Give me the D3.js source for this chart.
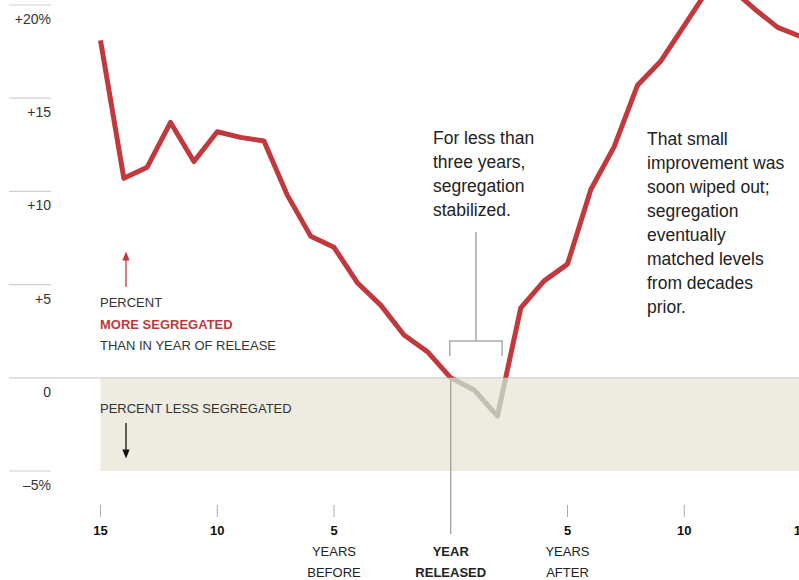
<!DOCTYPE html>
<html>
<head>
<meta charset="utf-8">
<script src="https://cdn.jsdelivr.net/npm/d3@7"></script>
<style>
html,body{margin:0;padding:0;background:#fff;}
svg{display:block;font-family:"Liberation Sans",Arial,sans-serif;}
</style>
</head>
<body>
<svg id="chart" width="799" height="580"></svg>
<script>
// ---- data ----
const years = d3.range(-15, 16);
const values = [18.1, 10.7, 11.3, 13.7, 11.6, 13.2, 12.9, 12.7, 9.8, 7.6, 7.0, 5.1, 3.9, 2.3, 1.4, 0,
                -0.65, -2.05, 3.75, 5.2, 6.1, 10.1, 12.4, 15.7, 17.0, 18.9, 20.8, 20.9, 19.8, 18.8, 18.3];
const yTicks = [20, 15, 10, 5, 0, -5];
const yTickLabels = ["+20%", "+15", "+10", "+5", "0", "\u20135%"];
const xTicks = [-15, -10, -5, 0, 5, 10, 15];
const xTickLabels = ["15", "10", "5", "", "5", "10", "15"];
const noteStable = ["For less than", "three years,", "segregation", "stabilized."];
const noteLater = ["That small", "improvement was", "soon wiped out;", "segregation", "eventually", "matched levels", "from decades", "prior."];

const svg = d3.select("#chart");
const x = d3.scaleLinear().domain([-15, 15]).range([100.5, 801]);
const y = d3.scaleLinear().domain([-5, 20]).range([471, 5]);
const data = years.map((yr, i) => ({yr, v: values[i]}));

// shaded "less segregated" band
svg.append("rect")
  .attr("x", x(-15)).attr("y", y(0))
  .attr("width", 799 - x(-15)).attr("height", y(-5) - y(0))
  .attr("fill", "#eeebe0");

// y gridlines + labels
yTicks.forEach((t, i) => {
  svg.append("line")
    .attr("x1", 9).attr("x2", t === 0 ? 799 : 51)
    .attr("y1", y(t)).attr("y2", y(t))
    .attr("stroke", "#d0d0d0").attr("stroke-width", 1.2);
  svg.append("text")
    .attr("x", 51).attr("y", y(t) + 19)
    .attr("text-anchor", "end")
    .attr("font-size", 14).attr("fill", "#333")
    .text(yTickLabels[i]);
});

// x ticks
xTicks.forEach((t, i) => {
  if (t !== 0) {
    svg.append("line")
      .attr("x1", x(t)).attr("x2", x(t)).attr("y1", 505).attr("y2", 517)
      .attr("stroke", "#aaa").attr("stroke-width", 1);
  }
  svg.append("text")
    .attr("x", x(t)).attr("y", 535)
    .attr("text-anchor", "middle").attr("font-size", 13).attr("font-weight", "bold")
    .attr("fill", "#111")
    .text(xTickLabels[i]);
});
function twoLine(xv, l1, l2, bold) {
  [l1, l2].forEach((s, k) => {
    svg.append("text").attr("x", x(xv)).attr("y", 556 + k * 21)
      .attr("text-anchor", "middle").attr("font-size", 13)
      .attr("font-weight", bold ? "bold" : "normal").attr("fill", "#222").text(s);
  });
}
twoLine(-5, "YEARS", "BEFORE", false);
twoLine(0, "YEAR", "RELEASED", true);
twoLine(5, "YEARS", "AFTER", false);

// year released line
svg.append("line")
  .attr("x1", x(0)).attr("x2", x(0)).attr("y1", y(0)).attr("y2", 534)
  .attr("stroke", "#999").attr("stroke-width", 1.2);

// clip paths for coloring
const defs = svg.append("defs");
defs.append("clipPath").attr("id", "above").append("rect")
  .attr("x", 0).attr("y", 0).attr("width", 799).attr("height", y(0));
defs.append("clipPath").attr("id", "below").append("rect")
  .attr("x", 0).attr("y", y(0)).attr("width", 799).attr("height", 580 - y(0));

const line = d3.line().x(d => x(d.yr)).y(d => y(d.v));
svg.append("path").datum(data).attr("d", line)
  .attr("fill", "none").attr("stroke", "#c0c1b0").attr("stroke-width", 5)
  .attr("stroke-linejoin", "round").attr("clip-path", "url(#below)");
svg.append("path").datum(data).attr("d", line)
  .attr("fill", "none").attr("stroke", "#c1393d").attr("stroke-width", 5)
  .attr("stroke-linejoin", "round").attr("clip-path", "url(#above)");

// bracket annotation
const bx0 = x(0) - 1, bx1 = x(2.2), bTop = 341, bLeg = 356;
svg.append("path")
  .attr("d", `M${bx0},${bLeg}V${bTop}H${bx1}V${bLeg}M${(bx0 + bx1) / 2},${bTop}V232`)
  .attr("fill", "none").attr("stroke", "#aaa").attr("stroke-width", 1.5);

noteStable.forEach((s, i) => {
  svg.append("text").attr("x", 433).attr("y", 144 + i * 24)
    .attr("font-size", 17.5).attr("fill", "#222").text(s);
});
noteLater.forEach((s, i) => {
  svg.append("text").attr("x", 647).attr("y", 145 + i * 24)
    .attr("font-size", 17.5).attr("fill", "#222").text(s);
});

// legend text
const lx = 100;
svg.append("text").attr("x", lx).attr("y", 307).attr("font-size", 13).attr("fill", "#333").text("PERCENT");
svg.append("text").attr("x", lx).attr("y", 329).attr("font-size", 13).attr("font-weight", "bold").attr("fill", "#c1393d").text("MORE SEGREGATED");
svg.append("text").attr("x", lx).attr("y", 350).attr("font-size", 13).attr("fill", "#333").text("THAN IN YEAR OF RELEASE");
svg.append("text").attr("x", lx).attr("y", 413).attr("font-size", 13).attr("fill", "#333").text("PERCENT LESS SEGREGATED");

// arrows
defs.append("marker").attr("id", "ahRed").attr("viewBox", "0 0 10 10").attr("refX", 5).attr("refY", 5)
  .attr("markerWidth", 7).attr("markerHeight", 7).attr("orient", "auto")
  .append("path").attr("d", "M0,1L10,5L0,9Z").attr("fill", "#c1393d");
defs.append("marker").attr("id", "ahBlk").attr("viewBox", "0 0 10 10").attr("refX", 5).attr("refY", 5)
  .attr("markerWidth", 7).attr("markerHeight", 7).attr("orient", "auto")
  .append("path").attr("d", "M0,1L10,5L0,9Z").attr("fill", "#111");
svg.append("line").attr("x1", 126).attr("x2", 126).attr("y1", 287).attr("y2", 256)
  .attr("stroke", "#c1393d").attr("stroke-width", 1.3).attr("marker-end", "url(#ahRed)");
svg.append("line").attr("x1", 126).attr("x2", 126).attr("y1", 423).attr("y2", 454)
  .attr("stroke", "#111").attr("stroke-width", 1.3).attr("marker-end", "url(#ahBlk)");
</script>
</body>
</html>
